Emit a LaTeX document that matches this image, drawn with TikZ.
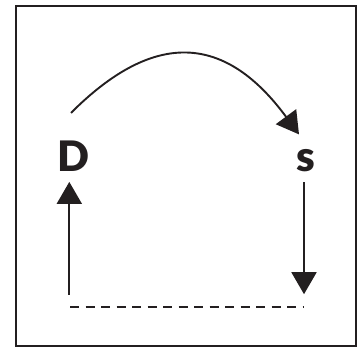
\documentclass[tikz,border=0pt]{standalone}
\usepackage{fontspec}
\setmainfont{Lato}[BoldFont={Lato Black}]
\usepackage{tikz}
\usetikzlibrary{arrows.meta, positioning}
\definecolor{ink}{HTML}{231F20}
\tikzset{x=1pt, y=-1pt, >={Triangle[width=25pt, length=22pt]},
every node/.style={inner sep=0pt, text=ink, font=\fontsize{42}{42}\selectfont\bfseries},
frame/.style={draw=ink, line width=2pt},
flow/.style={->, draw=ink, line width=1.9pt},
gap/.style={draw=ink, line width=2pt, dash pattern=on 9pt off 6.5pt},
}

\begin{document}
\begin{tikzpicture}
            \useasboundingbox (0,0) rectangle (361,346);
            \draw[frame] (16,6) rectangle (356,345.5);

            \node[anchor=base](D) at (73.5,171.7) {D};
            \node[anchor=base](s) at (305.5,171.7) {s};
            \coordinate (gl) at (69.3,306.7);
            \coordinate (gr) at (304,306.7);

            \draw[flow] ([xshift=-2.5pt, yshift=28pt]D.north) .. controls +(78,-78) and +(-78,-106) .. ([xshift=-6.5pt, yshift=15pt]s.north);
            \draw[flow] ([yshift=12pt]gl) -- ([yshift=-10pt]D.south -| gl);
            \draw[flow] ([yshift=-10pt]s.south -| gr) -- ([yshift=12.5pt]gr);
            \draw[gap] (gl) ++(0.7,0) -- ([xshift=-1.3pt]gr);
        \end{tikzpicture}
\end{document}
